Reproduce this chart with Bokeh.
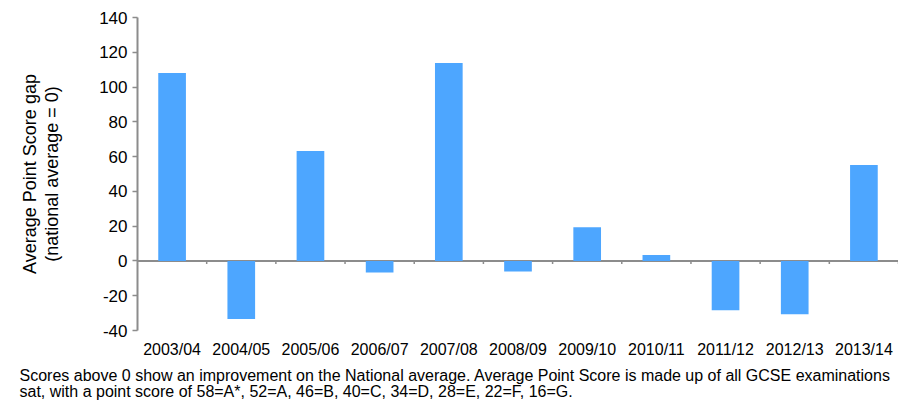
from bokeh.plotting import figure
from bokeh.models import (Range1d, FixedTicker, LinearAxis, Span, Title)
from bokeh.embed import file_html
from bokeh.resources import INLINE

# ---- data ----
years = ["2003/04", "2004/05", "2005/06", "2006/07", "2007/08", "2008/09",
         "2009/10", "2010/11", "2011/12", "2012/13", "2013/14"]
gap = [108.1, -33.4, 63.2, -6.7, 113.8, -6.1, 19.4, 3.4, -28.3, -30.6, 55.2]
y_ticks = [-40, -20, 0, 20, 40, 60, 80, 100, 120, 140]
y_label_1 = "Average Point Score gap"
y_label_2 = "(national average = 0)"
note = ("Scores above 0 show an improvement on the National average. "
        "Average Point Score is made up of all GCSE examinations\n"
        "sat, with a point score of 58=A*, 52=A, 46=B, 40=C, 34=D, 28=E, 22=F, 16=G.")

FONT = "Liberation Sans"
AXIS_GREY = "#8c8c8c"
BAR = "#4da6ff"

n = len(years)
centers = [i + 0.5 for i in range(n)]
bounds = [i + 1 for i in range(n)]

p = figure(width=898, height=405, output_backend="svg", toolbar_location=None,
           x_range=Range1d(0, n), y_range=Range1d(y_ticks[0], y_ticks[-1]),
           x_axis_location=None, min_border_left=137, min_border_top=17,
           min_border_right=0)
p.outline_line_color = None
p.grid.grid_line_color = None

# zero line
p.add_layout(Span(location=0, dimension="width", line_color=AXIS_GREY,
                  line_width=2, level="underlay"))
# category boundary ticks along zero line
p.segment(x0=bounds, x1=bounds, y0=[0] * n, y1=[-1.8] * n,
          line_color=AXIS_GREY, line_width=1.5, level="underlay")

p.vbar(x=centers, top=gap, bottom=0, width=0.4, fill_color=BAR, line_color=None)

# y axis
ya = p.yaxis[0]
ya.ticker = FixedTicker(ticks=y_ticks)
ya.major_label_overrides = {t: str(t) for t in y_ticks}
ya.minor_tick_line_color = None
ya.major_tick_in = 0
ya.major_tick_out = 5
ya.major_tick_line_color = AXIS_GREY
ya.major_tick_line_width = 1.5
ya.axis_line_color = AXIS_GREY
ya.axis_line_width = 2
ya.major_label_text_font = FONT
ya.major_label_text_font_size = "17px"
ya.major_label_text_color = "#000000"
ya.major_label_standoff = 5
ya.axis_label = y_label_2
ya.axis_label_text_font = FONT
ya.axis_label_text_font_size = "18px"
ya.axis_label_text_font_style = "normal"
ya.axis_label_text_color = "#000000"
ya.axis_label_standoff = 34

# outer axis carrying only the first line of the y label
ya2 = LinearAxis(ticker=FixedTicker(ticks=[]), axis_label=y_label_1)
ya2.axis_line_color = None
ya2.major_tick_line_color = None
ya2.minor_tick_line_color = None
ya2.major_tick_in = 0
ya2.major_tick_out = 0
ya2.axis_label_standoff = 0
ya2.axis_label_text_font = FONT
ya2.axis_label_text_font_size = "18px"
ya2.axis_label_text_font_style = "normal"
ya2.axis_label_text_color = "#000000"
p.add_layout(ya2, "left")

# x labels axis
xa = LinearAxis(ticker=FixedTicker(ticks=centers),
                major_label_overrides={c: y for c, y in zip(centers, years)})
xa.axis_line_color = None
xa.major_tick_line_color = None
xa.minor_tick_line_color = None
xa.major_tick_in = 0
xa.major_tick_out = 0
xa.major_label_standoff = 10
xa.major_label_text_font = FONT
xa.major_label_text_font_size = "16px"
xa.major_label_text_color = "#000000"
p.add_layout(xa, "below")

p.add_layout(Title(text=note, align="left", text_font=FONT,
                   text_font_size="16px", text_font_style="normal",
                   text_line_height=0.95,
                   text_color="#000000", standoff=10, offset=-118), "below")

open("out.html", "w").write(file_html(p, INLINE))
